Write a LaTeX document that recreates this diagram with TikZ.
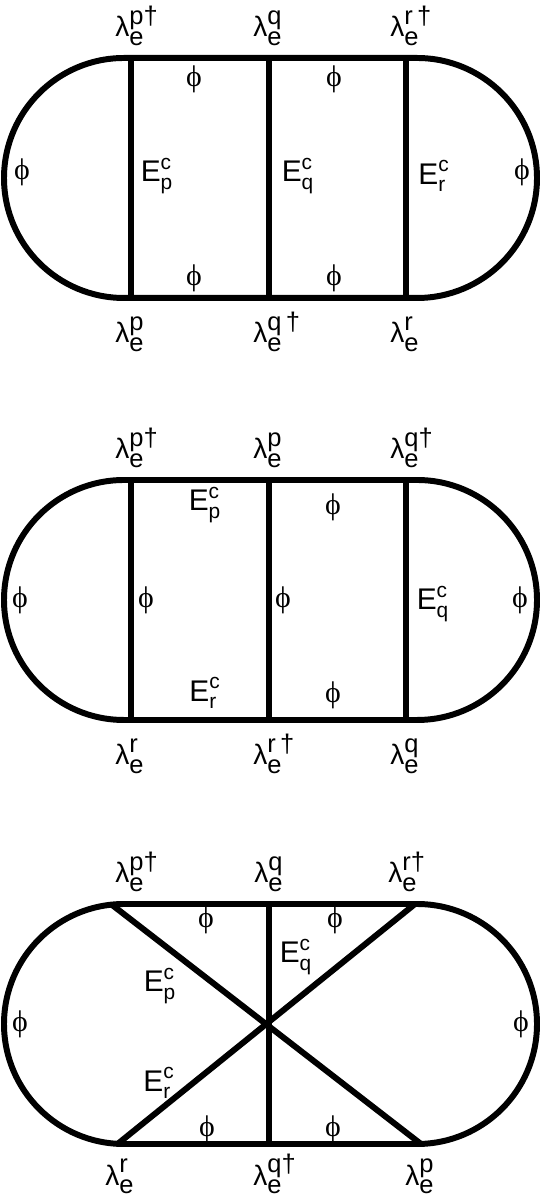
\documentclass[tikz,border=0pt]{standalone}
\usepackage{fontspec}
\setmainfont{Liberation Sans}
\newfontfamily\phifont{Liberation Serif}
\usepackage{amsmath}

% lambda with stacked indices
\newcommand{\lam}[1]{{\fontsize{16}{18}\selectfont λ\fontsize{14.5}{16}\selectfont\rlap{\raisebox{-5pt}{e}}\raisebox{7pt}{#1}}}
\newcommand{\Ec}[1]{$\text{E}^{\text{c}}_{\text{#1}}$}
\newcommand{\phil}{{\phifont ϕ}}

\tikzset{
  wall/.style={line width=3.4pt, line join=round},
  lab/.style={font=\fontsize{17}{20}\selectfont, inner sep=0pt},
  edgelab/.style={lab, anchor=base west},
}

\begin{document}
\begin{tikzpicture}
  \useasboundingbox (0,0) rectangle (10.88,23.96);

  % first graph
  \begin{scope}[yshift=20.4cm]
    \coordinate (Pt) at (2.62,2.4);
    \coordinate (Pb) at (2.62,-2.4);
    \coordinate (Qt) at (5.38,2.4);
    \coordinate (Qb) at (5.38,-2.4);
    \coordinate (Rt) at (8.12,2.4);
    \coordinate (Rb) at (8.12,-2.4);

    \draw[wall] (2.48,2.4) -- (8.34,2.4) arc (90:-90:2.4) -- (2.48,-2.4) arc (270:90:2.4) -- cycle;
    \draw[wall] (Pt)--(Pb);
    \draw[wall] (Qt)--(Qb);
    \draw[wall] (Rt)--(Rb);

    \node[edgelab] (a1) at (2.3,2.82) {\lam{p†}};
    \node[edgelab] (a2) at (5.06,2.82) {\lam{q}};
    \node[edgelab] (a3) at (7.8,2.82) {\lam{r\,†}};
    \node[edgelab] (a4) at (2.3,-3.3) {\lam{p}};
    \node[edgelab] (a5) at (5.06,-3.3) {\lam{q\,†}};
    \node[edgelab] (a6) at (7.8,-3.3) {\lam{r}};

    \node[lab] (f1) at (0.44,0.12) {\phil};
    \node[lab] (f2) at (10.44,0.12) {\phil};
    \node[lab] (f3) at (3.88,1.98) {\phil};
    \node[lab] (f4) at (6.68,1.98) {\phil};
    \node[lab] (f5) at (3.88,-2.0) {\phil};
    \node[lab] (f6) at (6.68,-2.0) {\phil};

    \node[lab] (e1) at (3.14,0.04) {\Ec{p}};
    \node[lab] (e2) at (5.96,0.04) {\Ec{q}};
    \node[lab] (e3) at (8.68,0.04) {\Ec{r}};
  \end{scope}

  % second graph
  \begin{scope}[yshift=11.96cm]
    \coordinate (Pt) at (2.62,2.4);
    \coordinate (Pb) at (2.62,-2.4);
    \coordinate (Qt) at (5.38,2.4);
    \coordinate (Qb) at (5.38,-2.4);
    \coordinate (Rt) at (8.12,2.4);
    \coordinate (Rb) at (8.12,-2.4);

    \draw[wall] (2.48,2.4) -- (8.34,2.4) arc (90:-90:2.4) -- (2.48,-2.4) arc (270:90:2.4) -- cycle;
    \draw[wall] (Pt)--(Pb);
    \draw[wall] (Qt)--(Qb);
    \draw[wall] (Rt)--(Rb);

    \node[edgelab] (b1) at (2.3,2.82) {\lam{p†}};
    \node[edgelab] (b2) at (5.06,2.82) {\lam{p}};
    \node[edgelab] (b3) at (7.8,2.82) {\lam{q†}};
    \node[edgelab] (b4) at (2.3,-3.3) {\lam{r}};
    \node[edgelab] (b5) at (5.06,-3.3) {\lam{r\,†}};
    \node[edgelab] (b6) at (7.8,-3.3) {\lam{q}};

    \node[lab] (g1) at (0.4,0.0) {\phil};
    \node[lab] (g2) at (10.4,0.0) {\phil};
    \node[lab] (g3) at (2.92,0.0) {\phil};
    \node[lab] (g4) at (5.66,0.0) {\phil};
    \node[lab] (g5) at (6.66,1.86) {\phil};
    \node[lab] (g6) at (6.66,-1.9) {\phil};

    \node[lab] (h1) at (4.1,1.9) {\Ec{p}};
    \node[lab] (h2) at (4.1,-1.86) {\Ec{r}};
    \node[lab] (h3) at (8.66,-0.08) {\Ec{q}};
  \end{scope}

  % third graph
  \begin{scope}[yshift=3.48cm]
    \coordinate (TL) at (2.23,2.39);
    \coordinate (TR) at (8.30,2.4);
    \coordinate (BL) at (2.35,-2.4);
    \coordinate (BR) at (8.42,-2.4);
    \coordinate (Qt) at (5.38,2.4);
    \coordinate (Qb) at (5.38,-2.4);

    \draw[wall] (2.48,2.4) -- (8.34,2.4) arc (90:-90:2.4) -- (2.48,-2.4) arc (270:90:2.4) -- cycle;
    \draw[wall] (TL)--(BR);
    \draw[wall] (TR)--(BL);
    \draw[wall] (Qt)--(Qb);

    \node[edgelab] (c1) at (2.3,2.82) {\lam{p†}};
    \node[edgelab] (c2) at (5.08,2.82) {\lam{q}};
    \node[edgelab] (c3) at (7.76,2.82) {\lam{r†}};
    \node[edgelab] (c4) at (2.1,-3.22) {\lam{r}};
    \node[edgelab] (c5) at (5.06,-3.22) {\lam{q†}};
    \node[edgelab] (c6) at (8.1,-3.22) {\lam{p}};

    \node[lab] (k1) at (0.4,0.0) {\phil};
    \node[lab] (k2) at (10.42,0.0) {\phil};
    \node[lab] (k3) at (4.12,2.08) {\phil};
    \node[lab] (k4) at (6.7,2.08) {\phil};
    \node[lab] (k5) at (4.14,-2.1) {\phil};
    \node[lab] (k6) at (6.66,-2.1) {\phil};

    \node[lab] (m1) at (3.2,0.76) {\Ec{p}};
    \node[lab] (m2) at (5.92,1.34) {\Ec{q}};
    \node[lab] (m3) at (3.18,-1.18) {\Ec{r}};
  \end{scope}
\end{tikzpicture}
\end{document}
